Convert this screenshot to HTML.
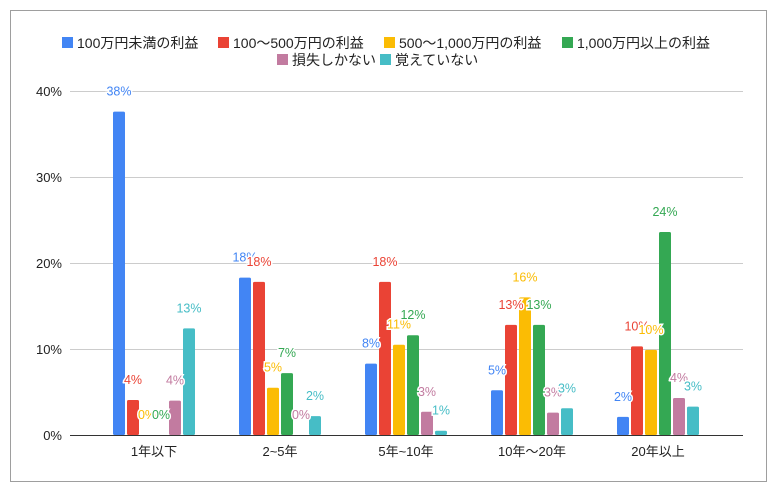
<!DOCTYPE html>
<html><head><meta charset="utf-8"><style>
body{margin:0;background:#fff;}
svg{display:block;font-family:"Liberation Sans","Noto Sans CJK JP",sans-serif;}
.lab{font-size:12.5px;font-weight:normal;text-anchor:middle;paint-order:stroke;stroke:#fff;stroke-width:3px;}
.b{fill:#4285f4}.r{fill:#ea4335}.y{fill:#fbbc04}.g{fill:#34a853}.p{fill:#c27ba0}.c{fill:#46bdc6}
</style></head><body>
<svg width="780" height="493" viewBox="0 0 780 493">
<rect x="10.5" y="10.5" width="756" height="471" fill="#fff" stroke="#9e9e9e"/>
<g stroke="#ccc" stroke-width="1">
<line x1="70" y1="91.5" x2="743" y2="91.5"/>
<line x1="70" y1="177.5" x2="743" y2="177.5"/>
<line x1="70" y1="263.5" x2="743" y2="263.5"/>
<line x1="70" y1="349.5" x2="743" y2="349.5"/>
</g>
<g font-size="13" fill="#222" text-anchor="end">
<text x="62" y="96">40%</text><text x="62" y="182">30%</text><text x="62" y="268">20%</text><text x="62" y="354">10%</text><text x="62" y="440">0%</text>
</g>
<g font-size="14" fill="#222">
<rect x="62" y="37" width="11" height="11" fill="#4285f4"/><text x="77" y="48">100万円未満の利益</text>
<rect x="218" y="37" width="11" height="11" fill="#ea4335"/><text x="233" y="48">100〜500万円の利益</text>
<rect x="384" y="37" width="11" height="11" fill="#fbbc04"/><text x="399" y="48">500〜1,000万円の利益</text>
<rect x="562" y="37" width="11" height="11" fill="#34a853"/><text x="577" y="48">1,000万円以上の利益</text>
<rect x="277" y="54" width="11" height="11" fill="#c27ba0"/><text x="292" y="65">損失しかない</text>
<rect x="380" y="54" width="11" height="11" fill="#46bdc6"/><text x="395" y="65">覚えていない</text>
</g>
<g>
<rect class="b" x="113" y="111.6" width="12" height="323.4" rx="1.5"/>
<rect class="r" x="127" y="400" width="12" height="35" rx="1.5"/>
<rect class="p" x="169" y="400.6" width="12" height="34.4" rx="1.5"/>
<rect class="c" x="183" y="328.4" width="12" height="106.6" rx="1.5"/>

<rect class="b" x="239" y="277.6" width="12" height="157.4" rx="1.5"/>
<rect class="r" x="253" y="281.9" width="12" height="153.1" rx="1.5"/>
<rect class="y" x="267" y="387.7" width="12" height="47.3" rx="1.5"/>
<rect class="g" x="281" y="373.1" width="12" height="61.9" rx="1.5"/>
<rect class="c" x="309" y="416.1" width="12" height="18.9" rx="1.5"/>

<rect class="b" x="365" y="363.6" width="12" height="71.4" rx="1.5"/>
<rect class="r" x="379" y="281.9" width="12" height="153.1" rx="1.5"/>
<rect class="y" x="393" y="344.7" width="12" height="90.3" rx="1.5"/>
<rect class="g" x="407" y="335.2" width="12" height="99.8" rx="1.5"/>
<rect class="p" x="421" y="411.8" width="12" height="23.2" rx="1.5"/>
<rect class="c" x="435" y="430.7" width="12" height="4.3" rx="1.5"/>

<rect class="b" x="491" y="390.3" width="12" height="44.7" rx="1.5"/>
<rect class="r" x="505" y="324.9" width="12" height="110.1" rx="1.5"/>
<rect class="y" x="519" y="297.4" width="12" height="137.6" rx="1.5"/>
<rect class="g" x="533" y="324.9" width="12" height="110.1" rx="1.5"/>
<rect class="p" x="547" y="412.6" width="12" height="22.4" rx="1.5"/>
<rect class="c" x="561" y="408.3" width="12" height="26.7" rx="1.5"/>

<rect class="b" x="617" y="416.9" width="12" height="18.1" rx="1.5"/>
<rect class="r" x="631" y="346.4" width="12" height="88.6" rx="1.5"/>
<rect class="y" x="645" y="349.9" width="12" height="85.1" rx="1.5"/>
<rect class="g" x="659" y="232" width="12" height="203" rx="1.5"/>
<rect class="p" x="673" y="398" width="12" height="37" rx="1.5"/>
<rect class="c" x="687" y="406.6" width="12" height="28.4" rx="1.5"/>
</g>
<g>
<text class="lab b" x="119" y="95.6">38%</text>
<text class="lab r" x="133" y="384">4%</text>
<text class="lab y" x="147" y="419">0%</text>
<text class="lab g" x="161" y="419">0%</text>
<text class="lab p" x="175" y="384.6">4%</text>
<text class="lab c" x="189" y="312.4">13%</text>

<text class="lab b" x="245" y="261.6">18%</text>
<text class="lab r" x="259" y="265.9">18%</text>
<text class="lab y" x="273" y="371.7">5%</text>
<text class="lab g" x="287" y="357.1">7%</text>
<text class="lab p" x="301" y="419">0%</text>
<text class="lab c" x="315" y="400.1">2%</text>

<text class="lab b" x="371" y="347.6">8%</text>
<text class="lab r" x="385" y="265.9">18%</text>
<text class="lab y" x="399" y="328.7">11%</text>
<text class="lab g" x="413" y="319.2">12%</text>
<text class="lab p" x="427" y="395.8">3%</text>
<text class="lab c" x="441" y="414.7">1%</text>

<text class="lab b" x="497" y="374.3">5%</text>
<text class="lab r" x="511" y="308.9">13%</text>
<text class="lab y" x="525" y="281.4">16%</text>
<text class="lab g" x="539" y="308.9">13%</text>
<text class="lab p" x="553" y="396.6">3%</text>
<text class="lab c" x="567" y="392.3">3%</text>

<text class="lab b" x="623" y="400.9">2%</text>
<text class="lab r" x="637" y="330.4">10%</text>
<text class="lab y" x="651" y="333.9">10%</text>
<text class="lab g" x="665" y="216">24%</text>
<text class="lab p" x="679" y="382">4%</text>
<text class="lab c" x="693" y="390.6">3%</text>
</g>
<line x1="70" y1="435.5" x2="743" y2="435.5" stroke="#333"/>
<g font-size="13" fill="#222" text-anchor="middle">
<text x="154" y="456">1年以下</text><text x="280" y="456">2~5年</text><text x="406" y="456">5年~10年</text><text x="532" y="456">10年～20年</text><text x="658" y="456">20年以上</text>
</g>
</svg>
</body></html>
